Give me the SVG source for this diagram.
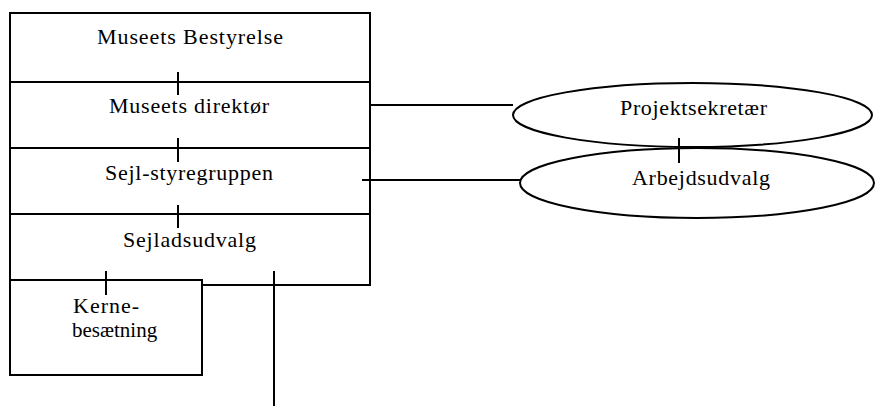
<svg xmlns="http://www.w3.org/2000/svg" width="877" height="407" viewBox="0 0 877 407">
<style>
.n{fill:#fff;stroke:#000;stroke-width:2}
.e{fill:none;stroke:#000;stroke-width:2}
.c line{stroke:#000;stroke-width:2}
</style>
<rect width="877" height="407" fill="#fff"/>
<g font-family="Liberation Serif, Times New Roman, serif" font-size="22" fill="#000">
<g id="bestyrelse"><rect class="n" x="10" y="13" width="360" height="69"/><text text-anchor="middle" x="190" y="44" textLength="186" lengthAdjust="spacing">Museets Bestyrelse</text></g>
<g id="direktor"><rect class="n" x="10" y="82" width="360" height="66"/><text text-anchor="middle" x="189" y="113" textLength="160" lengthAdjust="spacing">Museets direktør</text></g>
<g id="styregruppen"><rect class="n" x="10" y="148" width="360" height="66"/><text text-anchor="middle" x="189" y="180" textLength="168" lengthAdjust="spacing">Sejl-styregruppen</text></g>
<g id="sejladsudvalg"><rect class="n" x="10" y="214" width="360" height="71"/><text text-anchor="middle" x="189.5" y="247" textLength="133" lengthAdjust="spacing">Sejladsudvalg</text></g>
<g id="kernebesaetning"><rect class="n" x="10" y="280" width="192" height="95"/><text x="73" y="313" textLength="66" lengthAdjust="spacing">Kerne-</text><text x="72" y="337" font-size="21">besætning</text></g>
<g id="arbejdsudvalg"><ellipse class="e" cx="697" cy="183" rx="177" ry="35"/><text x="632" y="185" textLength="138" lengthAdjust="spacing">Arbejdsudvalg</text></g>
<g id="projektsekretaer"><ellipse class="e" cx="692.5" cy="115" rx="179.5" ry="32"/><text x="620" y="115" textLength="147" lengthAdjust="spacing">Projektsekretær</text></g>
</g>
<g id="connectors" class="c">
<line x1="178" y1="72" x2="178" y2="95"/>
<line x1="178" y1="138" x2="178" y2="162"/>
<line x1="178" y1="205" x2="178" y2="228"/>
<line x1="106" y1="271" x2="106" y2="295"/>
<line x1="274" y1="271" x2="274" y2="406"/>
<line x1="370" y1="105" x2="513" y2="105"/>
<line x1="362" y1="180" x2="520" y2="180"/>
<line x1="679" y1="138" x2="679" y2="163"/>
</g>
</svg>
